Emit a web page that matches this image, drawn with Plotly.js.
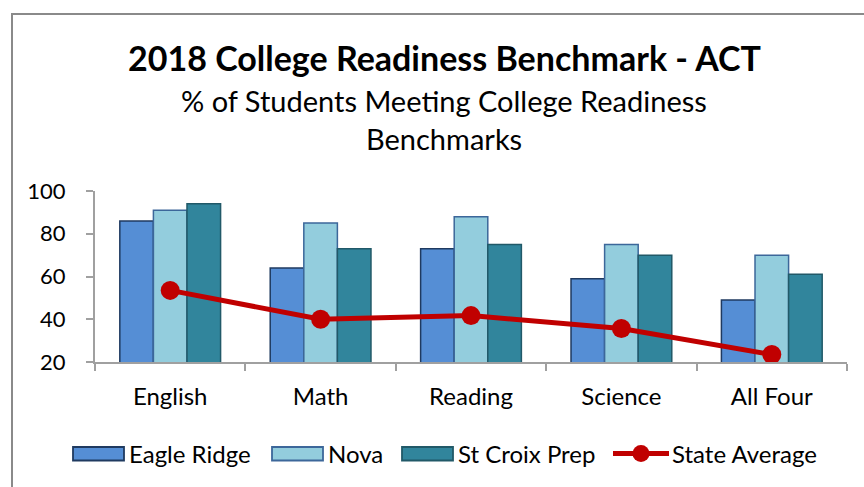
<!DOCTYPE html>
<html>
<head>
<meta charset="utf-8">
<script src="https://cdn.plot.ly/plotly-3.0.1.min.js"></script>
<style>
html,body{margin:0;padding:0;background:#fff;}
#wrap{position:relative;width:864px;height:487px;overflow:hidden;}
#chart{width:864px;height:487px;}
#frame{position:absolute;left:11px;top:13px;width:900px;height:520px;border-left:2px solid #8a8a8a;border-top:2px solid #8a8a8a;pointer-events:none;}
</style>
</head>
<body>
<div id="wrap"><div id="chart"></div><div id="frame"></div></div>
<script>
const categories = ["English", "Math", "Reading", "Science", "All Four"];
const eagleRidge = [86, 64, 73, 59, 49];
const nova = [91, 85, 88, 75, 70];
const stCroixPrep = [94, 73, 75, 70, 61];
const stateAverage = [53.5, 40, 41.7, 35.7, 23.5];
const yTicks = [20, 40, 60, 80, 100];

const FONT = "Lato, 'Open Sans', sans-serif";
const L = 95, R = 847, T = 191, B = 362;
const px = x => (x - L) / (R - L);
const py = y => (B - y) / (B - T);

const traces = [
  {type: 'bar', name: 'Eagle Ridge', x: categories, y: eagleRidge,
   marker: {color: '#558ED5', line: {color: '#1F3A60', width: 1.5}}},
  {type: 'bar', name: 'Nova', x: categories, y: nova,
   marker: {color: '#93CDDD', line: {color: '#3C679A', width: 1.5}}},
  {type: 'bar', name: 'St Croix Prep', x: categories, y: stCroixPrep,
   marker: {color: '#31859C', line: {color: '#215968', width: 1.5}}},
  {type: 'scatter', mode: 'lines+markers', name: 'State Average', x: categories, y: stateAverage,
   line: {color: '#C00000', width: 5}, marker: {color: '#C00000', size: 19}}
];

const legendItems = [
  {label: 'Eagle Ridge', kind: 'bar', fill: '#558ED5', line: '#1F3A60', x: 73},
  {label: 'Nova', kind: 'bar', fill: '#93CDDD', line: '#3C679A', x: 272},
  {label: 'St Croix Prep', kind: 'bar', fill: '#31859C', line: '#215968', x: 402},
  {label: 'State Average', kind: 'line', fill: '#C00000', line: '#C00000', x: 613}
];

const shapes = [];
const annotations = [
  {text: '<b>2018 College Readiness Benchmark - ACT</b>', xref: 'paper', yref: 'paper',
   x: px(444), y: py(57), xanchor: 'center', yanchor: 'middle', showarrow: false,
   font: {family: FONT, size: 34, color: '#000'}},
  {text: '% of Students Meeting College Readiness', xref: 'paper', yref: 'paper',
   x: px(444), y: py(100), xanchor: 'center', yanchor: 'middle', showarrow: false,
   font: {family: FONT, size: 29, color: '#000'}},
  {text: 'Benchmarks', xref: 'paper', yref: 'paper',
   x: px(444), y: py(138), xanchor: 'center', yanchor: 'middle', showarrow: false,
   font: {family: FONT, size: 29, color: '#000'}}
];

legendItems.forEach(it => {
  if (it.kind === 'bar') {
    shapes.push({type: 'rect', xref: 'paper', yref: 'paper',
      x0: px(it.x), x1: px(it.x + 51), y0: py(460.5), y1: py(447),
      fillcolor: it.fill, line: {color: it.line, width: 1.8}});
  } else {
    shapes.push({type: 'line', xref: 'paper', yref: 'paper',
      x0: px(it.x), x1: px(it.x + 56), y0: py(453.5), y1: py(453.5),
      line: {color: it.fill, width: 5}});
    shapes.push({type: 'circle', xref: 'paper', yref: 'paper',
      x0: px(it.x + 28 - 8.5), x1: px(it.x + 28 + 8.5), y0: py(453.5 + 8.5), y1: py(453.5 - 8.5),
      fillcolor: it.fill, line: {color: it.fill, width: 0}});
  }
  const tx = it.kind === 'bar' ? it.x + 54 : it.x + 57;
  annotations.push({text: it.label, xref: 'paper', yref: 'paper', x: px(tx), y: py(453.5),
    xanchor: 'left', yanchor: 'middle', showarrow: false,
    font: {family: FONT, size: 24, color: '#000'}});
});

const layout = {
  width: 864, height: 487,
  margin: {l: L, r: 864 - R, t: T, b: 487 - B, pad: 0},
  paper_bgcolor: '#fff', plot_bgcolor: '#fff',
  showlegend: false,
  barmode: 'group', bargap: 0.33, bargroupgap: 0,
  font: {family: FONT, color: '#000'},
  xaxis: {type: 'category', showline: true, linecolor: '#A0A0A0', linewidth: 2,
    ticks: 'outside', tickson: 'boundaries', ticklen: 7, tickcolor: '#A0A0A0', tickwidth: 2,
    showgrid: false, zeroline: false, ticklabelstandoff: 12,
    tickfont: {family: FONT, size: 24, color: '#000'}},
  yaxis: {range: [20, 100], tickvals: yTicks, ticktext: yTicks.map(String),
    showline: true, linecolor: '#A0A0A0', linewidth: 2,
    ticks: 'outside', ticklen: 7, tickcolor: '#A0A0A0', tickwidth: 2,
    showgrid: false, zeroline: false, ticklabelstandoff: 16,
    tickfont: {family: FONT, size: 22, color: '#000'}},
  shapes: shapes,
  annotations: annotations
};

Plotly.newPlot('chart', traces, layout, {staticPlot: true, displayModeBar: false});
</script>
</body>
</html>
